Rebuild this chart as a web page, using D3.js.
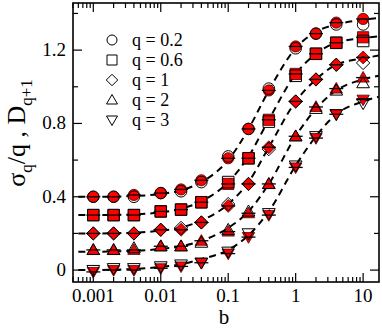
<!DOCTYPE html>
<html><head><meta charset="utf-8">
<script src="https://cdn.jsdelivr.net/npm/d3@7"></script>
<style>html,body{margin:0;padding:0;background:#fff}svg{display:block}</style>
</head><body>
<svg id="c" width="382" height="328"></svg>
<script>
const bValues = [0.001, 0.002, 0.004, 0.01, 0.02, 0.04, 0.1, 0.2, 0.4, 1, 2, 4, 10];
const qLabels = ["q = 0.2", "q = 0.6", "q = 1", "q = 2", "q = 3"];
const symbols = ["circle", "square", "diamond", "triangle", "triangleDown"];
// sigma_q / q (open markers)
const sigma02 = [0.40, 0.40, 0.40, 0.42, 0.43, 0.48, 0.62, 0.77, 0.99, 1.21, 1.29, 1.34, 1.34];
const sigma06 = [0.30, 0.30, 0.30, 0.32, 0.33, 0.37, 0.48, 0.61, 0.81, 1.06, 1.18, 1.24, 1.25];
const sigma1  = [0.20, 0.20, 0.20, 0.22, 0.23, 0.26, 0.36, 0.47, 0.66, 0.92, 1.04, 1.12, 1.13];
const sigma2  = [0.11, 0.11, 0.12, 0.13, 0.13, 0.15, 0.22, 0.32, 0.47, 0.73, 0.88, 0.98, 1.02];
const sigma3  = [0.00, 0.01, 0.01, 0.02, 0.03, 0.04, 0.10, 0.20, 0.31, 0.57, 0.73, 0.85, 0.91];
// D_{q+1} (red filled markers)
const dim02 = [0.40, 0.40, 0.41, 0.42, 0.44, 0.49, 0.61, 0.77, 0.98, 1.22, 1.29, 1.35, 1.37];
const dim06 = [0.30, 0.30, 0.30, 0.32, 0.33, 0.37, 0.47, 0.61, 0.82, 1.07, 1.18, 1.24, 1.27];
const dim1  = [0.20, 0.20, 0.20, 0.22, 0.22, 0.26, 0.35, 0.47, 0.67, 0.92, 1.04, 1.12, 1.16];
const dim2  = [0.11, 0.11, 0.11, 0.13, 0.13, 0.16, 0.21, 0.31, 0.47, 0.73, 0.89, 0.99, 1.05];
const dim3  = [-0.01, 0.00, 0.00, 0.01, 0.02, 0.04, 0.09, 0.18, 0.30, 0.56, 0.72, 0.85, 0.93];
// dashed fit curves
const fitB   = [0.0006, 0.001, 0.002, 0.004, 0.01, 0.02, 0.04, 0.1, 0.2, 0.4, 1, 2, 4, 10, 17];
const fit02  = [0.40, 0.40, 0.401, 0.404, 0.415, 0.435, 0.48, 0.60, 0.77, 0.98, 1.21, 1.30, 1.34, 1.365, 1.375];
const fit06  = [0.30, 0.30, 0.301, 0.304, 0.315, 0.335, 0.375, 0.48, 0.62, 0.82, 1.07, 1.18, 1.24, 1.265, 1.275];
const fit1   = [0.20, 0.20, 0.201, 0.204, 0.215, 0.232, 0.27, 0.36, 0.48, 0.67, 0.92, 1.04, 1.12, 1.155, 1.17];
const fit2   = [0.10, 0.10, 0.102, 0.105, 0.115, 0.13, 0.16, 0.23, 0.32, 0.47, 0.73, 0.88, 0.98, 1.04, 1.06];
const fit3   = [0.00, 0.00, 0.002, 0.006, 0.017, 0.032, 0.06, 0.11, 0.19, 0.32, 0.57, 0.73, 0.85, 0.92, 0.945];
const xTickValues = [0.001, 0.01, 0.1, 1, 10];
const xTickLabels = ["0.001", "0.01", "0.1", "1", "10"];
const yTickValues = [0, 0.4, 0.8, 1.2];
const yTickLabels = ["0", "0.4", "0.8", "1.2"];

const sigmaSeries = [sigma02, sigma06, sigma1, sigma2, sigma3];
const dimSeries = [dim02, dim06, dim1, dim2, dim3];
const fitSeries = [fit02, fit06, fit1, fit2, fit3];

const L = 73, R = 379, T = 3, B = 282;
const svg = d3.select("#c");
const x = d3.scaleLog().domain([0.0005, 17.2]).range([L, R]);
const y = d3.scaleLinear().domain([-0.065, 1.457]).range([B, T]);
const font = "'Liberation Serif','Times New Roman',serif";

svg.append("clipPath").attr("id","clip").append("rect").attr("x",L).attr("y",T).attr("width",R-L).attr("height",B-T);

// fits
const line = d3.line().x((d,i)=>x(fitB[i])).y(d=>y(d)).curve(d3.curveMonotoneX);
const gFit = svg.append("g").attr("clip-path","url(#clip)");
fitSeries.forEach(f=>{
  gFit.append("path").attr("d", line(f)).attr("fill","none").attr("stroke","#000")
    .attr("stroke-width",2).attr("stroke-dasharray","7,5");
});

function sym(type, r){
  switch(type){
    case "circle": return d3.symbol().type(d3.symbolCircle).size(Math.PI*r*r)();
    case "square": return `M${-r},${-r}H${r}V${r}H${-r}Z`;
    case "diamond": return `M0,${-r*1.15}L${r*1.15},0L0,${r*1.15}L${-r*1.15},0Z`;
    case "triangle": return `M0,${-r*1.1}L${r*1.1},${r*0.8}L${-r*1.1},${r*0.8}Z`;
    case "triangleDown": return `M0,${r*1.1}L${r*1.1},${-r*0.8}L${-r*1.1},${-r*0.8}Z`;
  }
}

const gM = svg.append("g");
dimSeries.forEach((s,k)=>{
  gM.selectAll(null).data(s).enter().append("path")
    .attr("d", sym(symbols[k], 5.6))
    .attr("transform",(d,i)=>`translate(${x(bValues[i])},${y(d)})`)
    .attr("fill","#ff0000").attr("stroke","#400").attr("stroke-width",0.8);
});
sigmaSeries.forEach((s,k)=>{
  gM.selectAll(null).data(s).enter().append("path")
    .attr("d", sym(symbols[k], 5.8))
    .attr("transform",(d,i)=>`translate(${x(bValues[i])},${y(d)})`)
    .attr("fill","none").attr("stroke","#000").attr("stroke-width",1);
});
dimSeries.forEach((s,k)=>{
  gM.selectAll(null).data(s).enter().append("line")
    .attr("x1",(d,i)=>x(bValues[i])-7).attr("x2",(d,i)=>x(bValues[i])+7)
    .attr("y1",d=>y(d)).attr("y2",d=>y(d))
    .attr("stroke","#000").attr("stroke-width",1.3);
});

// frame
svg.append("rect").attr("x",L).attr("y",T).attr("width",R-L).attr("height",B-T)
  .attr("fill","none").attr("stroke","#000").attr("stroke-width",1.6);

// ticks
const gT = svg.append("g").attr("stroke","#000").attr("stroke-width",1.2);
const minorX = [];
for (let e=-4; e<=1; e++) for (let m=1; m<=9; m++){ const v=m*Math.pow(10,e); if(v>=0.0005 && v<=17.2) minorX.push(v); }
minorX.forEach(v=>{
  const major = xTickValues.some(t=>Math.abs(t-v)/t<1e-6);
  const len = major?9:5;
  gT.append("line").attr("x1",x(v)).attr("x2",x(v)).attr("y1",B).attr("y2",B-len);
  gT.append("line").attr("x1",x(v)).attr("x2",x(v)).attr("y1",T).attr("y2",T+len);
});
[0,0.2,0.4,0.6,0.8,1.0,1.2,1.4].forEach(v=>{
  const major = yTickValues.some(t=>Math.abs(t-v)<1e-6);
  const len = major?9:5;
  gT.append("line").attr("x1",L).attr("x2",L+len).attr("y1",y(v)).attr("y2",y(v));
  gT.append("line").attr("x1",R).attr("x2",R-len).attr("y1",y(v)).attr("y2",y(v));
});

// tick labels
xTickValues.forEach((v,i)=>{
  svg.append("text").attr("x",x(v)).attr("y",301.5).attr("text-anchor","middle")
    .attr("font-family",font).attr("font-size",19).text(xTickLabels[i]);
});
yTickValues.forEach((v,i)=>{
  svg.append("text").attr("x",66).attr("y",y(v)+6).attr("text-anchor","end")
    .attr("font-family",font).attr("font-size",19).text(yTickLabels[i]);
});

// axis titles
svg.append("text").attr("x",224).attr("y",324).attr("text-anchor","middle")
  .attr("font-family",font).attr("font-size",21).text("b");
const yl = svg.append("text").attr("transform","translate(25,133) rotate(-90)")
  .attr("text-anchor","middle").attr("font-family",font).attr("font-size",26);
yl.append("tspan").text("σ");
yl.append("tspan").attr("font-size",17).attr("dy",7).text("q");
yl.append("tspan").attr("dy",-7).text("/q , D");
yl.append("tspan").attr("font-size",17).attr("dy",7).text("q+1");

// legend
qLabels.forEach((lab,k)=>{
  const yy = 40 + k*20;
  svg.append("path").attr("d", sym(symbols[k], 5)).attr("transform",`translate(112,${yy})`)
    .attr("fill","none").attr("stroke","#000").attr("stroke-width",1);
  svg.append("text").attr("x",132).attr("y",yy+6).attr("font-family",font).attr("font-size",18).text(lab);
});
</script>
</body></html>
